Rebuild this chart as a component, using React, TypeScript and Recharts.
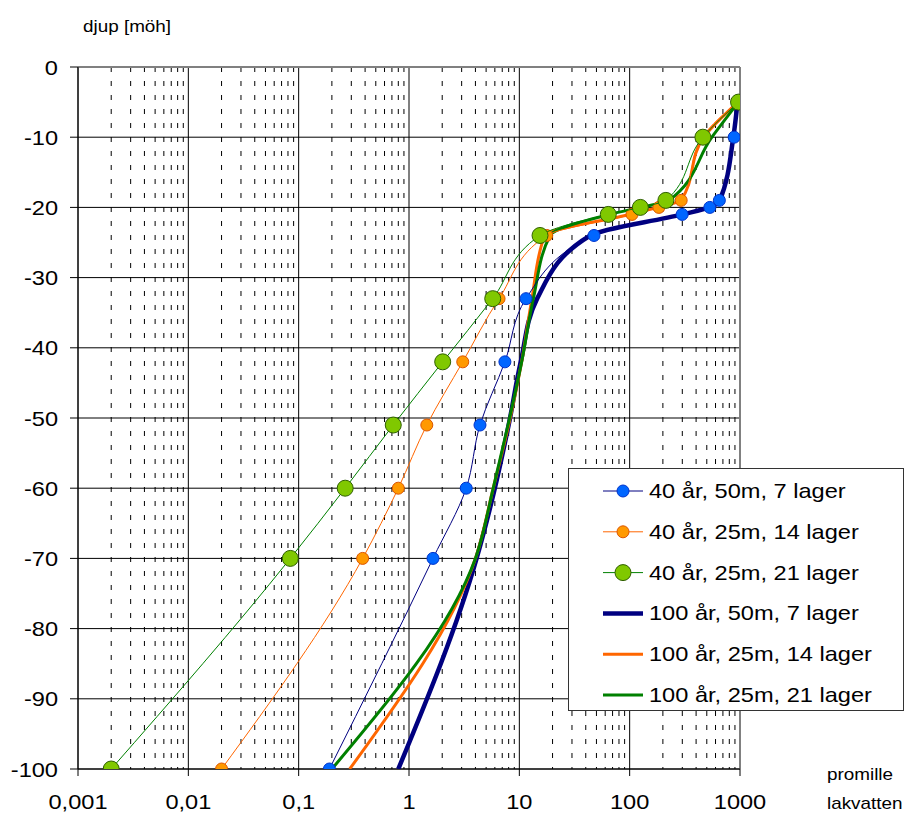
import { CartesianGrid, ReferenceLine, Scatter, ScatterChart, XAxis, YAxis } from "recharts";

// depth of each sample [möh]
const DEPTHS = [-5, -10, -19, -20, -21, -24, -33, -42, -51, -60, -70, -100];

// promille lakvatten per depth
const BLUE_40 = [950, 885, 650, 533, 299, 47.5, 11.5, 7.4, 4.4, 3.3, 1.65, 0.19];
const ORANGE_40 = [960, 455, 293, 184, 105, 17.7, 6.55, 3.07, 1.45, 0.8, 0.38, 0.02];
const GREEN_40 = [970, 461, 213, 125, 64, 15.4, 5.74, 2.02, 0.72, 0.264, 0.084, 0.002];
const NAVY_100 = [950, 870, 655, 530, 300, 44, 14.5, 10.3, 8, 6, 4.1, 0.8];
const ORANGE_100 = [960, 470, 290, 180, 100, 17, 13, 10.5, 8, 5.8, 4.0, 0.29];
const GREEN_100 = [970, 556, 227, 125, 66, 19, 13.4, 10.5, 7.9, 5.8, 4.0, 0.2];

const X_TICKS = [0.001, 0.01, 0.1, 1, 10, 100, 1000];
const Y_TICKS = [0, -10, -20, -30, -40, -50, -60, -70, -80, -90, -100];

// dashed lines at 2..9 inside every decade
const MINOR_X = X_TICKS.slice(0, -1).flatMap((d) =>
  [2, 3, 4, 5, 6, 7, 8, 9].map((k) => +(k * d).toPrecision(3))
);

const FONT = "Liberation Sans, Arial, sans-serif";
const STRETCH = 1.18;

type Marker = { r: number; fill: string; stroke: string };
type Series = {
  name: string;
  values: number[];
  color: string;
  width: number;
  marker?: Marker;
};

const SERIES: Series[] = [
  {
    name: "40 år, 50m, 7 lager",
    values: BLUE_40,
    color: "#000080",
    width: 1,
    marker: { r: 6, fill: "#0066ff", stroke: "#0033cc" }
  },
  {
    name: "40 år, 25m, 14 lager",
    values: ORANGE_40,
    color: "#ff6600",
    width: 1,
    marker: { r: 6, fill: "#ff9900", stroke: "#dd5500" }
  },
  {
    name: "40 år, 25m, 21 lager",
    values: GREEN_40,
    color: "#008000",
    width: 1,
    marker: { r: 8, fill: "#80c800", stroke: "#2f5f00" }
  },
  { name: "100 år, 50m, 7 lager", values: NAVY_100, color: "#000080", width: 4.5 },
  { name: "100 år, 25m, 14 lager", values: ORANGE_100, color: "#ff6600", width: 3 },
  { name: "100 år, 25m, 21 lager", values: GREEN_100, color: "#008000", width: 3 }
];

const toPoints = (values: number[]) => values.map((x, i) => ({ x, y: DEPTHS[i] }));

const fmtX = (v: number) => String(v).replace(".", ",");

function Stretched({ x, y, size, anchor = "start", children }: any) {
  return (
    <text
      transform={`translate(${x} ${y}) scale(${STRETCH} 1)`}
      fontSize={size}
      fontFamily={FONT}
      textAnchor={anchor}
      fill="#000"
    >
      {children}
    </text>
  );
}

const YTick = ({ x, y, payload }: any) => (
  <Stretched x={x} y={y + 7.5} size={20} anchor="end">
    {payload.value}
  </Stretched>
);

const XTick = ({ x, y, payload }: any) => (
  <Stretched x={x} y={y + 33} size={20} anchor="middle">
    {fmtX(payload.value)}
  </Stretched>
);

function Legend() {
  const left = 568;
  const top = 468;
  return (
    <g>
      <rect x={left + 0.5} y={top + 0.5} width={335} height={242} fill="#fff" stroke="#333" />
      {SERIES.map((s, i) => {
        const cy = top + 23 + i * 40.8;
        return (
          <g key={s.name}>
            <line x1={left + 35} x2={left + 75} y1={cy} y2={cy} stroke={s.color} strokeWidth={s.width} />
            {s.marker && (
              <circle cx={left + 55} cy={cy} r={s.marker.r} fill={s.marker.fill} stroke={s.marker.stroke} />
            )}
            <Stretched x={left + 81} y={cy + 7} size={20}>
              {s.name}
            </Stretched>
          </g>
        );
      })}
    </g>
  );
}

export default function App() {
  // thick 100 år curves go underneath the marked 40 år series
  const drawOrder = [...SERIES.slice(3), ...SERIES.slice(0, 3)];
  return (
    <div style={{ position: "absolute", left: 0, top: 0, width: 904, height: 814, background: "#fff" }}>
      <ScatterChart width={904} height={814} margin={{ top: 67, right: 164, bottom: 0, left: 0 }}>
        <CartesianGrid
          horizontal={false}
          verticalValues={MINOR_X}
          stroke="#000"
          strokeDasharray="5 9"
        />
        <CartesianGrid stroke="#000" strokeDasharray="" />
        <XAxis
          dataKey="x"
          type="number"
          scale="log"
          domain={[0.001, 1000]}
          ticks={X_TICKS}
          allowDataOverflow
          height={45}
          tickSize={7}
          tickMargin={0}
          axisLine={{ stroke: "#000" }}
          tickLine={{ stroke: "#000" }}
          tick={<XTick />}
          interval={0}
        />
        <YAxis
          dataKey="y"
          type="number"
          domain={[-100, 0]}
          ticks={Y_TICKS}
          allowDataOverflow
          width={78}
          tickSize={8}
          tickMargin={12}
          axisLine={{ stroke: "#000" }}
          tickLine={{ stroke: "#000" }}
          tick={<YTick />}
          interval={0}
        />
        <ReferenceLine y={0} stroke="#808080" strokeWidth={2} />
        <ReferenceLine x={1000} stroke="#808080" strokeWidth={2} />
        {drawOrder.map((s) => (
          <Scatter
            key={s.name}
            name={s.name}
            data={toPoints(s.values)}
            fill={s.color}
            line={{ stroke: s.color, strokeWidth: s.width }}
            lineType="joint"
            lineJointType="monotoneY"
            isAnimationActive={false}
            shape={(p: any) =>
              s.marker ? (
                <circle
                  cx={p.cx}
                  cy={p.cy}
                  r={s.marker.r}
                  fill={s.marker.fill}
                  stroke={s.marker.stroke}
                  strokeWidth={1}
                />
              ) : (
                <g />
              )
            }
          />
        ))}
      </ScatterChart>
      <svg
        width={904}
        height={814}
        style={{ position: "absolute", left: 0, top: 0, pointerEvents: "none" }}
      >
        <Stretched x={83} y={32} size={16}>
          djup [möh]
        </Stretched>
        <Stretched x={827} y={780} size={16}>
          promille
        </Stretched>
        <Stretched x={827} y={809} size={16}>
          lakvatten
        </Stretched>
        <Legend />
      </svg>
    </div>
  );
}
